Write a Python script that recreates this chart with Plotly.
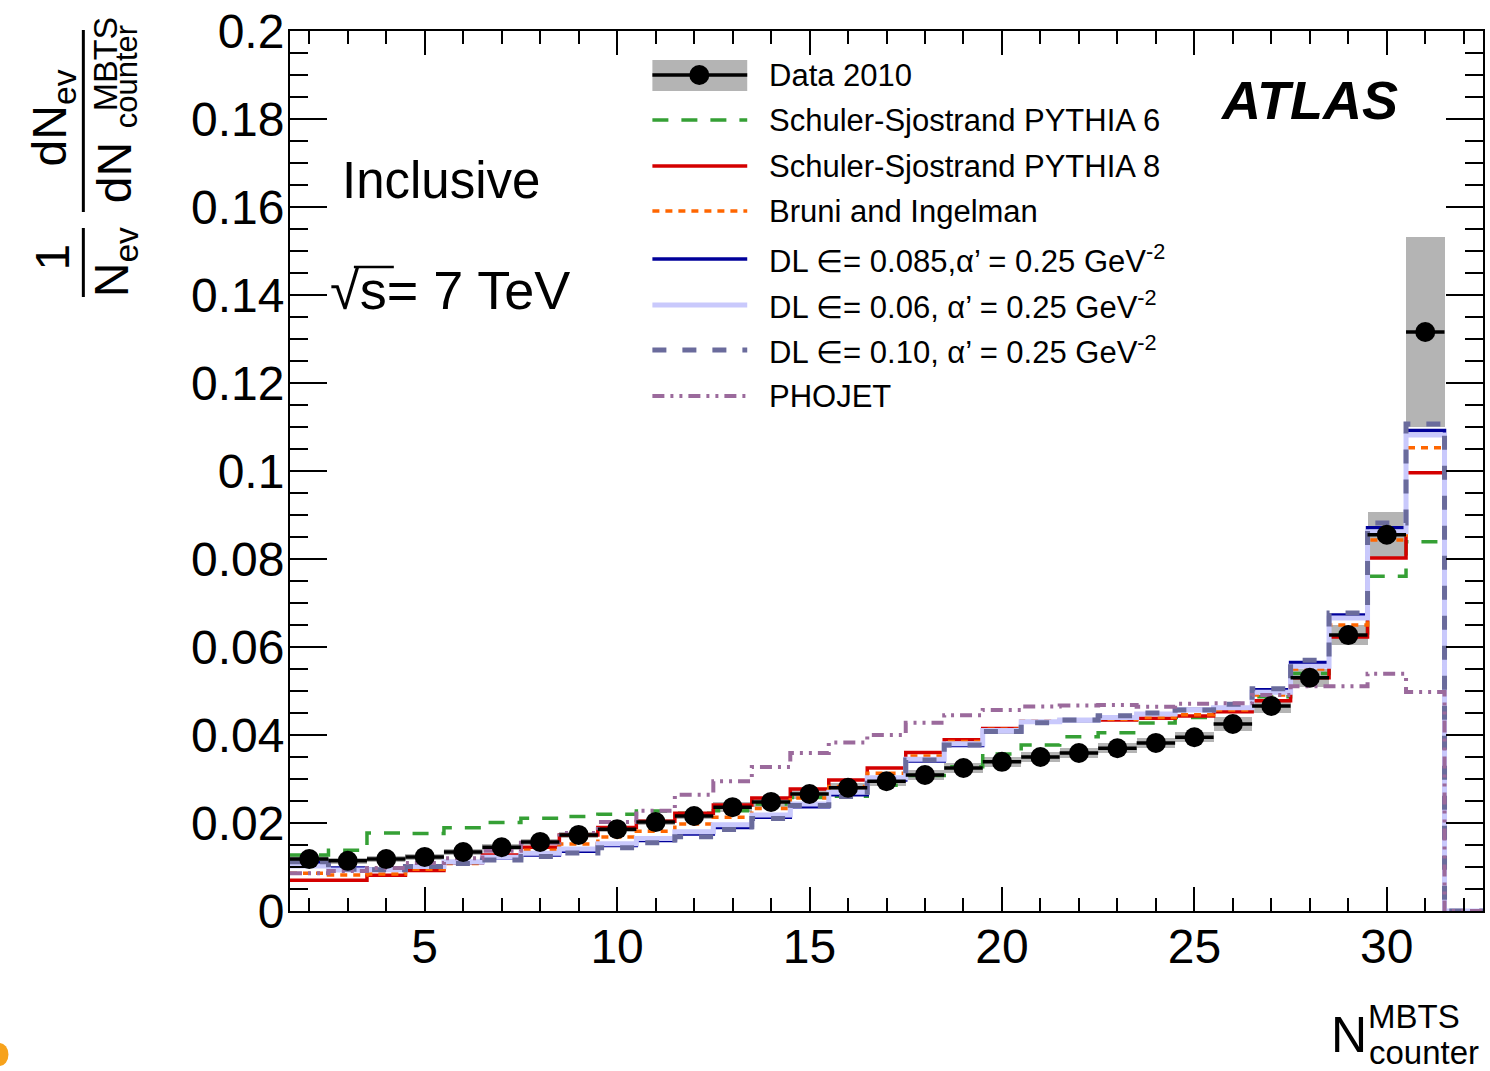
import plotly.graph_objects as go

# ---------------- data (bins of N_counter^MBTS = 2..31) ----------------
bins = list(range(2, 32))

data_2010 = [0.0118, 0.0114, 0.0118, 0.0123, 0.0134, 0.0145, 0.0157, 0.0173, 0.0186, 0.0202,
             0.0216, 0.0236, 0.0248, 0.0266, 0.0280, 0.0295, 0.0309, 0.0325, 0.0339, 0.0350,
             0.0359, 0.0370, 0.0382, 0.0395, 0.0425, 0.0466, 0.0530, 0.0627, 0.0855, 0.1316]
data_err = [0.0007, 0.0007, 0.0007, 0.0007, 0.0007, 0.0007, 0.0007, 0.0007, 0.0007, 0.0007,
            0.0007, 0.0012, 0.0012, 0.0012, 0.0012, 0.0012, 0.0012, 0.0012, 0.0012, 0.0012,
            0.0012, 0.0012, 0.0012, 0.0012, 0.0016, 0.0016, 0.0020, 0.0023, 0.0052, 0.0215]

pythia6 = [0.0127, 0.0138, 0.0177, 0.0176, 0.0189, 0.0201, 0.0211, 0.0215, 0.0220, 0.0227,
           0.0222, 0.0228, 0.0243, 0.0258, 0.0261, 0.0286, 0.0308, 0.0328, 0.0357, 0.0377,
           0.0396, 0.0405, 0.0427, 0.0440, 0.0457, 0.0487, 0.0540, 0.0632, 0.0761, 0.0839]
pythia8 = [0.0070, 0.0070, 0.0081, 0.0092, 0.0110, 0.0127, 0.0145, 0.0173, 0.0190, 0.0204,
           0.0222, 0.0241, 0.0257, 0.0277, 0.0298, 0.0325, 0.0360, 0.0389, 0.0415, 0.0430,
           0.0434, 0.0434, 0.0438, 0.0443, 0.0453, 0.0478, 0.0530, 0.0623, 0.0802, 0.0996]
bruni = [0.0086, 0.0082, 0.0084, 0.0095, 0.0108, 0.0123, 0.0138, 0.0152, 0.0168, 0.0181,
         0.0198, 0.0213, 0.0233, 0.0257, 0.0283, 0.0313, 0.0352, 0.0385, 0.0413, 0.0432,
         0.0434, 0.0436, 0.0440, 0.0446, 0.0457, 0.0491, 0.0550, 0.0650, 0.0843, 0.1053]
dl_085 = [0.0110, 0.0098, 0.0095, 0.0102, 0.0110, 0.0120, 0.0127, 0.0136, 0.0149, 0.0160,
          0.0175, 0.0190, 0.0213, 0.0237, 0.0264, 0.0298, 0.0341, 0.0376, 0.0408, 0.0429,
          0.0433, 0.0439, 0.0447, 0.0458, 0.0462, 0.0503, 0.0565, 0.0673, 0.0871, 0.1092]
dl_006 = [0.0102, 0.0093, 0.0094, 0.0101, 0.0112, 0.0122, 0.0131, 0.0141, 0.0153, 0.0165,
          0.0180, 0.0196, 0.0218, 0.0243, 0.0270, 0.0303, 0.0345, 0.0380, 0.0410, 0.0430,
          0.0434, 0.0440, 0.0448, 0.0457, 0.0462, 0.0497, 0.0556, 0.0666, 0.0862, 0.1082]
dl_010 = [0.0112, 0.0095, 0.0094, 0.0101, 0.0108, 0.0116, 0.0124, 0.0132, 0.0144, 0.0155,
          0.0169, 0.0185, 0.0210, 0.0240, 0.0260, 0.0298, 0.0343, 0.0377, 0.0408, 0.0428,
          0.0434, 0.0444, 0.0450, 0.0457, 0.0470, 0.0505, 0.0570, 0.0677, 0.0882, 0.1107]
phojet = [0.0086, 0.0091, 0.0098, 0.0109, 0.0120, 0.0137, 0.0155, 0.0177, 0.0202, 0.0228,
          0.0264, 0.0295, 0.0327, 0.0359, 0.0383, 0.0400, 0.0428, 0.0445, 0.0457, 0.0465,
          0.0467, 0.0468, 0.0464, 0.0471, 0.0472, 0.0491, 0.0511, 0.0511, 0.0539, 0.0498]

x_ticks = [5, 10, 15, 20, 25, 30]

FONT = "Liberation Sans, Arial, Helvetica, sans-serif"

# histogram edges: bins 2..31 plus an empty bin 32
edges = [b - 0.5 for b in bins] + [bins[-1] + 0.5, bins[-1] + 1.5]


def step_y(vals):
    return list(vals) + [0.0, 0.0]


fig = go.Figure()

# systematic band of data
fig.add_trace(go.Bar(
    x=bins, y=[2 * e for e in data_err], base=[d - e for d, e in zip(data_2010, data_err)],
    width=1.0, marker=dict(color="#b4b4b4", line=dict(width=0)), hoverinfo="skip"))

models = [
    ("Schuler-Sjostrand PYTHIA 6", pythia6, "#35a035", 3.5, "16px,13px"),
    ("Schuler-Sjostrand PYTHIA 8", pythia8, "#d40000", 3.5, "solid"),
    ("Bruni and Ingelman", bruni, "#ff6600", 3.5, "7px,6px"),
    ("DL 0.085", dl_085, "#00009a", 3.5, "solid"),
    ("DL 0.06", dl_006, "#c9c9fc", 5.0, "solid"),
    ("DL 0.10", dl_010, "#6a6b9c", 5.0, "14px,16px"),
    ("PHOJET", phojet, "#9b6a9c", 4.0, "12px,6px,3px,6px,3px,6px"),
]
for name, vals, col, w, dash in models:
    fig.add_trace(go.Scatter(x=edges, y=step_y(vals), mode="lines", line_shape="hv",
                             line=dict(color=col, width=w, dash=dash), name=name))

fig.add_trace(go.Scatter(
    x=bins, y=data_2010, mode="markers", name="Data 2010",
    marker=dict(color="black", size=20),
    error_x=dict(type="constant", value=0.5, thickness=3.5, width=0, color="black")))

# ---------------- layout ----------------
L, R, T, B = 290, 1485, 31, 911
W, H = R - L, B - T


def px(x, y):
    return (x - L) / W, (B - y) / H


axis_common = dict(showline=True, linewidth=2, linecolor="black", mirror="ticks",
                   ticks="inside", tickcolor="black", tickwidth=2, showgrid=False,
                   zeroline=False, tickfont=dict(family=FONT, size=48, color="black"))

fig.update_layout(
    width=1490, height=1071, margin=dict(l=L, r=1490 - R, t=T, b=1071 - B),
    plot_bgcolor="white", paper_bgcolor="white", showlegend=False, bargap=0,
    font=dict(family=FONT, color="black"),
    xaxis=dict(range=[1.5, 32.5], tickmode="array", tickvals=x_ticks, ticklen=24,
               ticklabelstandoff=-8,
               minor=dict(dtick=1, tick0=0, ticks="inside", ticklen=13, tickwidth=2,
                          tickcolor="black", showgrid=False), **axis_common),
    yaxis=dict(range=[0, 0.2], tickmode="linear", tick0=0, dtick=0.02, ticklen=37,
               ticklabelstandoff=-6,
               minor=dict(dtick=0.005, tick0=0, ticks="inside", ticklen=18, tickwidth=2,
                          tickcolor="black", showgrid=False), **axis_common),
)

ann = []
shapes = []


def add_text(text, x, y, size, xanchor="center", yanchor="middle", angle=0, **kw):
    xp, yp = px(x, y)
    ann.append(dict(text=text, x=xp, y=yp, xref="paper", yref="paper", showarrow=False,
                    xanchor=xanchor, yanchor=yanchor, textangle=angle,
                    font=dict(family=FONT, size=size, color="black"), **kw))


def add_line(x0, y0, x1, y1, color="black", width=3, dash="solid"):
    a0, b0 = px(x0, y0)
    a1, b1 = px(x1, y1)
    shapes.append(dict(type="line", xref="paper", yref="paper", x0=a0, y0=b0, x1=a1, y1=b1,
                       line=dict(color=color, width=width, dash=dash), layer="above"))


# y-axis title (rotated fraction)
add_text("dN<sub>ev</sub>", 53, 118, 48, angle=-90)
add_line(83, 30, 83, 212)
add_text("dN", 114, 173, 48, angle=-90)
add_text("MBTS", 105, 64, 34, angle=-90)
add_text("counter", 127, 77, 31, angle=-90)
add_text("1", 52, 257, 48, angle=-90)
add_line(83, 228, 83, 297)
add_text("N<sub>ev</sub>", 115, 262, 48, angle=-90)

# x-axis title
add_text("N", 1351, 1035, 50)
add_text("MBTS", 1416, 1016, 33)
add_text("counter", 1426, 1052, 33)

# plot labels
add_text("Inclusive", 441, 180, 51)
add_text("√s= 7 TeV", 328, 290, 54, xanchor="left")
add_line(354, 267, 394, 267, width=2.5)
add_text("<b><i>ATLAS</i></b>", 1311, 100, 54)

# legend
leg_x0, leg_x1, text_x = 653, 748, 768
a0, b0 = px(leg_x0, 60)
a1, b1 = px(leg_x1, 91)
shapes.append(dict(type="rect", xref="paper", yref="paper", x0=a0, y0=b0, x1=a1, y1=b1,
                   fillcolor="#b4b4b4", line=dict(width=0), layer="above"))
add_line(leg_x0, 75, leg_x1, 75, width=3.5)
c0, d0 = px(690, 65)
c1, d1 = px(710, 85)
shapes.append(dict(type="circle", xref="paper", yref="paper", x0=c0, y0=d0, x1=c1, y1=d1,
                   fillcolor="black", line=dict(width=0), layer="above"))

legend_entries = [
    ("Data 2010", 75, None),
    ("Schuler-Sjostrand PYTHIA 6", 120, models[0]),
    ("Schuler-Sjostrand PYTHIA 8", 166, models[1]),
    ("Bruni and Ingelman", 211, models[2]),
    ("DL ∈= 0.085,α’ = 0.25 GeV<sup>-2</sup>", 259, models[3]),
    ("DL ∈= 0.06, α’ = 0.25 GeV<sup>-2</sup>", 305, models[4]),
    ("DL ∈= 0.10, α’ = 0.25 GeV<sup>-2</sup>", 350, models[5]),
    ("PHOJET", 396, models[6]),
]
for label, yy, m in legend_entries:
    if m is not None:
        add_line(leg_x0, yy, leg_x1, yy, color=m[2], width=m[3], dash=m[4])
    add_text(label, text_x, yy, 31, xanchor="left")

# small orange mark at the bottom-left corner
e0, f0 = px(-10, 1043)
e1, f1 = px(8, 1066)
shapes.append(dict(type="circle", xref="paper", yref="paper", x0=e0, y0=f0, x1=e1, y1=f1,
                   fillcolor="#f7a21b", line=dict(width=0), layer="above"))

fig.update_layout(annotations=ann, shapes=shapes)
fig.write_html("out.html")
